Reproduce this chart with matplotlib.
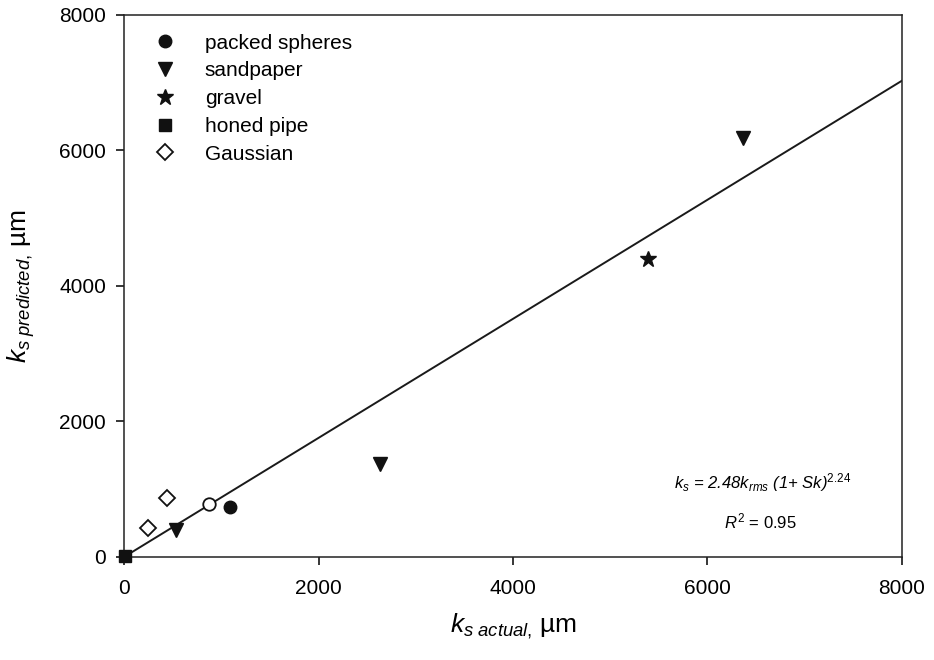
import matplotlib
matplotlib.use('agg')
import matplotlib.pyplot as plt

plt.rcParams['font.family'] = ['Liberation Sans', 'DejaVu Sans']
plt.rcParams['mathtext.fontset'] = 'custom'
plt.rcParams['mathtext.rm'] = 'Liberation Sans'
plt.rcParams['mathtext.it'] = 'Liberation Sans:italic'

# data (um)
spheres_x = [1090]
spheres_y = [740]
sandpaper_x = [535, 2630, 6370]
sandpaper_y = [400, 1370, 6190]
gravel_x = [5390]
gravel_y = [4400]
honed_x = [10]
honed_y = [15]
gauss_x = [250, 440]
gauss_y = [430, 870]
open_x = [870]
open_y = [780]
fit_x = [0, 8000]
fit_y = [0, 7030]
ticks = [0, 2000, 4000, 6000, 8000]

fig = plt.figure(figsize=(9.34, 6.6), dpi=100)
ax = fig.add_axes([0.1328, 0.1561, 0.8329, 0.8212])

ax.plot(fit_x, fit_y, color='#1a1a1a', lw=1.4, zorder=2)

kw = dict(color='#111111', linestyle='none', clip_on=False, zorder=5)
ax.plot(spheres_x, spheres_y, marker='o', ms=9, label='packed spheres', **kw)
ax.plot(sandpaper_x, sandpaper_y, marker='v', ms=10, label='sandpaper', **kw)
ax.plot(gravel_x, gravel_y, marker='*', ms=12, label='gravel', **kw)
ax.plot(honed_x, honed_y, marker='s', ms=9, label='honed pipe', **kw)
ax.plot(gauss_x, gauss_y, marker='D', ms=8, mfc='white', mec='#111111', mew=1.3,
        linestyle='none', clip_on=False, zorder=5, label='Gaussian')
ax.plot(open_x, open_y, marker='o', ms=9, mfc='white', mec='#111111', mew=1.3,
        linestyle='none', zorder=5, label='_nolegend_')

ax.set_xlim(0, 8000)
ax.set_ylim(0, 8000)
ax.set_xticks(ticks)
ax.set_yticks(ticks)
ax.tick_params(direction='out', length=6, width=1.1, labelsize=15,
               top=False, right=False)
ax.tick_params(axis='y', pad=7)
ax.tick_params(axis='x', pad=10)
for s in ax.spines.values():
    s.set_linewidth(1.1)
    s.set_color('#222222')

ax.set_xlabel(r'$k_{s\ actual,}\,$µm', fontsize=19, labelpad=10)
ax.set_ylabel(r'$k_{s\ predicted,}\,$µm', fontsize=19, labelpad=16)

ax.text(0.821, 0.1365, r'$k_s$ = 2.48$k_{rms}$ (1+ Sk)$^{\mathit{2.24}}$',
        transform=ax.transAxes, fontsize=12, style='italic',
        ha='center', va='center')
ax.text(0.818, 0.066, r'$R^2$ = 0.95', transform=ax.transAxes,
        fontsize=12, ha='center', va='center')

ax.legend(loc='upper left', frameon=False, fontsize=15, labelspacing=0.42,
          handletextpad=0.9, borderaxespad=0.5, bbox_to_anchor=(0.002, 1.0),
          numpoints=1)

fig.savefig('out.png', dpi=100)
